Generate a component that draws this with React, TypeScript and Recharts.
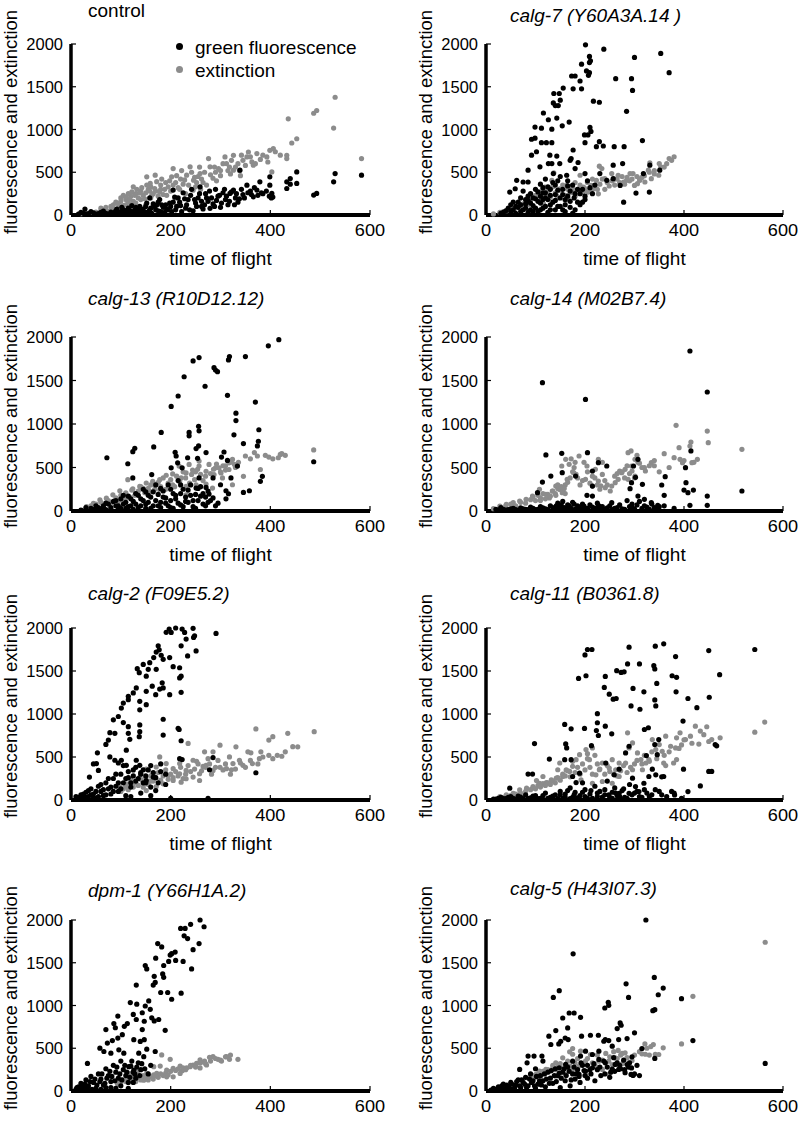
import React from 'react';
import { ScatterChart, Scatter, XAxis, YAxis } from 'recharts';

type Pt = [number, number];

// values: [time of flight, signal]
const controlExt: Pt[] = [
  [20, 15], [30, 20], [40, 30], [50, 35], [55, 25], [60, 45], [70, 50], [75, 40], [80, 60], [85, 70], [90, 55], [95, 80],
  [100, 90], [100, 200], [105, 110], [110, 120], [110, 180], [115, 150], [120, 100], [120, 220], [125, 160], [130, 140],
  [130, 250], [135, 200], [140, 180], [140, 280], [145, 230], [150, 120], [150, 260], [155, 300], [160, 200], [160, 330],
  [165, 250], [169, 466], [170, 280], [175, 220], [180, 350], [180, 300], [185, 240], [190, 380], [195, 330], [200, 280],
  [205, 543], [202, 446], [210, 380], [210, 200], [215, 320], [220, 420], [225, 360], [230, 250], [232, 466], [239, 563],
  [245, 290], [246, 407], [250, 330], [255, 450], [259, 485], [260, 300], [265, 380], [276, 660], [279, 563], [285, 430],
  [290, 500], [296, 543], [300, 460], [309, 679], [312, 601], [315, 520], [320, 480], [326, 698], [326, 524], [330, 560],
  [335, 600], [340, 460], [345, 640], [353, 679], [356, 737], [363, 621], [366, 582], [373, 718], [380, 650], [393, 679],
  [399, 757], [403, 504], [406, 776], [433, 698], [433, 660], [436, 1125], [443, 842], [453, 892], [487, 1190],
  [493, 1222], [527, 1017], [530, 1377], [583, 660], [125, 330], [152, 446], [159, 369],
  [60, 80], [65, 60], [70, 90], [80, 100], [85, 120], [90, 150], [95, 130], [100, 160], [105, 230], [110, 210], [115, 250],
  [118, 190], [122, 270], [128, 230], [132, 300], [138, 260], [142, 320], [148, 190], [152, 350], [158, 280], [162, 230],
  [168, 310], [172, 390], [178, 270], [182, 420], [188, 300], [192, 230], [198, 400], [205, 350], [212, 460], [218, 300],
  [222, 520], [228, 410], [236, 350], [242, 500], [248, 440], [252, 380], [258, 560], [262, 420], [268, 500], [272, 350],
  [280, 470], [288, 560], [292, 400], [300, 520], [305, 600], [318, 560], [322, 640], [338, 520], [342, 700], [350, 580],
  [360, 680], [370, 600], [385, 700], [395, 620], [410, 740], [420, 700],
];
const controlGreen: Pt[] = [
  [15, 10], [25, 20], [28, 70], [35, 15], [45, 25], [55, 15], [60, 30], [70, 20], [80, 35], [85, 15], [90, 50], [95, 25],
  [100, 40], [105, 60], [110, 20], [115, 80], [120, 45], [125, 30], [130, 90], [135, 55], [140, 25], [145, 70],
  [150, 100], [155, 40], [158, 200], [160, 80], [165, 130], [170, 60], [172, 116], [175, 150], [180, 40], [185, 90],
  [190, 120], [195, 60], [200, 100], [205, 150], [205, 291], [210, 60], [215, 200], [220, 110], [225, 260], [230, 80],
  [235, 180], [240, 230], [245, 50], [250, 140], [255, 200], [259, 330], [262, 100], [265, 70], [270, 250], [275, 160],
  [279, 78], [285, 130], [290, 300], [295, 220], [300, 90], [305, 260], [310, 180], [315, 120], [319, 252], [326, 291],
  [330, 200], [335, 150], [339, 524], [345, 240], [353, 349], [360, 280], [366, 213], [373, 291], [379, 388], [385, 250],
  [399, 446], [399, 349], [403, 252], [405, 210], [433, 310], [433, 388], [440, 427], [453, 504], [453, 369], [487, 233],
  [493, 252], [527, 388], [530, 485], [583, 466],
  [20, 30], [30, 10], [40, 40], [50, 10], [65, 45], [75, 10], [88, 30], [92, 70], [98, 15], [102, 90], [108, 30],
  [112, 55], [118, 20], [122, 110], [128, 60], [132, 20], [138, 100], [142, 50], [148, 30], [152, 140], [158, 60],
  [162, 20], [168, 100], [175, 50], [178, 180], [182, 120], [188, 30], [192, 70], [198, 140], [202, 40], [208, 210],
  [212, 100], [218, 150], [222, 40], [228, 190], [232, 120], [238, 60], [242, 300], [248, 180], [252, 100], [258, 250],
  [262, 160], [268, 120], [272, 200], [278, 280], [282, 200], [288, 100], [292, 170], [298, 230], [302, 140], [308, 300],
  [312, 220], [318, 160], [322, 270], [328, 120], [332, 250], [338, 190], [342, 300], [348, 200], [355, 260], [362, 240],
  [368, 320], [375, 230], [382, 260], [392, 280], [398, 220], [402, 200], [440, 360],
];

const calg7Ext: Pt[] = [
  [380, 681], [370, 661], [350, 602], [353, 563], [349, 465], [331, 610], [328, 524], [297, 484], [300, 346], [311, 405],
  [291, 484], [284, 405], [278, 386], [267, 465], [334, 425], [321, 386], [306, 366], [249, 339], [254, 484], [240, 425],
  [229, 571], [234, 543], [223, 405], [213, 346], [203, 287], [217, 307], [227, 248], [206, 268], [190, 465], [190, 287],
  [176, 268], [166, 189], [160, 169], [137, 492], [133, 405], [119, 327], [109, 268], [99, 228], [89, 169], [149, 307],
  [143, 228], [126, 189], [116, 130], [75, 130], [65, 90], [55, 71], [42, 51], [28, 31], [15, 12], [163, 346], [170, 327],
  [197, 327], [180, 380], [260, 420], [315, 440], [340, 480],
  [100, 200], [105, 250], [110, 170], [115, 300], [120, 240], [125, 280], [130, 210], [135, 330], [140, 260], [145, 200],
  [150, 290], [155, 350], [160, 230], [165, 300], [170, 260], [175, 320], [180, 220], [185, 300], [190, 350], [195, 260],
  [200, 310], [205, 380], [210, 300], [215, 420], [220, 340], [225, 300], [230, 360], [235, 420], [240, 300], [245, 380],
  [255, 400], [260, 350], [265, 420], [270, 380], [275, 450], [280, 360], [285, 440], [290, 400], [295, 420], [305, 450],
  [310, 420], [320, 460], [330, 500], [340, 520], [360, 560], [365, 600], [375, 640], [80, 150], [85, 120], [70, 110],
  [60, 80], [50, 60], [35, 40],
];
const calg7Green: Pt[] = [
  [201, 1990], [238, 1940], [209, 1855], [211, 1803], [209, 1783], [353, 1890], [300, 1843], [370, 1665], [193, 1764],
  [203, 1685], [209, 1665], [207, 1634], [173, 1626], [180, 1626], [190, 1567], [294, 1594], [262, 1594], [296, 1457],
  [176, 1476], [193, 1476], [156, 1484], [137, 1421], [148, 1421], [150, 1343], [136, 1311], [140, 1280], [146, 1280],
  [217, 1331], [229, 1319], [284, 1213], [116, 1193], [126, 1114], [143, 1134], [99, 1028], [112, 1016], [210, 1024],
  [212, 977], [206, 937], [199, 937], [168, 1087], [154, 1043], [133, 1004], [99, 898], [92, 886], [122, 846], [112, 846],
  [133, 846], [200, 846], [229, 858], [237, 807], [223, 799], [279, 799], [259, 799], [316, 870], [92, 700], [102, 740],
  [129, 700], [143, 689], [176, 760], [172, 661], [186, 614], [149, 602], [126, 602], [133, 602], [170, 640], [85, 524],
  [62, 405], [75, 386], [85, 386], [109, 563], [136, 484], [163, 465], [180, 543], [200, 484], [230, 484], [257, 583],
  [276, 602], [257, 425], [331, 583], [351, 524], [318, 484], [303, 256], [330, 268], [278, 150], [195, 150], [244, 405],
  [271, 346], [48, 268], [59, 307], [30, 20], [40, 50], [45, 80], [50, 120], [55, 60], [60, 100], [65, 150], [70, 40],
  [70, 200], [75, 280], [80, 80], [80, 130], [85, 170], [90, 250], [90, 60], [95, 110], [100, 190], [100, 300], [105, 40],
  [110, 140], [110, 360], [115, 80], [115, 260], [120, 200], [120, 420], [125, 30], [125, 330], [130, 120], [130, 230],
  [135, 380], [140, 60], [140, 170], [145, 290], [150, 100], [150, 450], [155, 240], [160, 40], [160, 180], [165, 340],
  [170, 90], [170, 280], [175, 20], [178, 200], [185, 150], [185, 300], [190, 250], [200, 220], [210, 320],
  [35, 30], [50, 40], [55, 150], [60, 20], [65, 90], [70, 120], [75, 60], [80, 180], [85, 30], [85, 220], [90, 140],
  [95, 40], [95, 200], [100, 80], [105, 160], [105, 270], [110, 60], [110, 220], [115, 180], [115, 320], [120, 100],
  [120, 260], [125, 180], [130, 60], [130, 300], [135, 150], [140, 240], [140, 350], [145, 100], [145, 400], [150, 200],
  [155, 60], [155, 300], [160, 120], [165, 220], [165, 400], [170, 160], [175, 350], [180, 60], [180, 250], [190, 120],
  [195, 300], [200, 180], [205, 400], [215, 250], [220, 350],
];

const calg13Ext: Pt[] = [
  [487, 702], [430, 640], [423, 659], [416, 612], [397, 620], [368, 671], [374, 632], [350, 632], [346, 399], [380, 477],
  [324, 593], [317, 554], [328, 535], [317, 477], [310, 520], [297, 496], [301, 438], [287, 419], [290, 496], [304, 380],
  [324, 302], [257, 574], [257, 516], [250, 450], [237, 535], [244, 470], [271, 457], [277, 535], [217, 516], [231, 438],
  [221, 380], [204, 426], [191, 411], [178, 360], [164, 341], [151, 322], [114, 360], [138, 283], [124, 256], [98, 233],
  [84, 186], [71, 147], [58, 128], [45, 89], [31, 50], [251, 302], [231, 283], [204, 302], [178, 244], [158, 225],
  [271, 310], [284, 264], [231, 186], [110, 150], [130, 200], [145, 260], [170, 300], [190, 250],
  [40, 60], [50, 80], [60, 100], [65, 60], [75, 120], [80, 90], [90, 150], [95, 110], [100, 180], [105, 130], [110, 210],
  [118, 160], [122, 240], [128, 180], [135, 230], [140, 280], [148, 210], [155, 260], [160, 300], [168, 250], [175, 330],
  [180, 280], [185, 380], [195, 320], [200, 360], [208, 280], [212, 400], [218, 340], [225, 450], [230, 380], [238, 320],
  [242, 420], [248, 360], [254, 480], [260, 420], [265, 350], [270, 400], [280, 430], [286, 480], [292, 540], [300, 450],
  [305, 520], [310, 470], [320, 560], [330, 500], [336, 560], [360, 600], [390, 640], [405, 600], [420, 650],
];
const calg13Green: Pt[] = [
  [417, 1969], [396, 1899], [350, 1775], [318, 1775], [316, 1736], [245, 1725], [257, 1764], [287, 1647], [290, 1620],
  [294, 1601], [227, 1543], [269, 1434], [215, 1322], [314, 1330], [201, 1202], [370, 1252], [331, 1124], [331, 1039],
  [181, 903], [256, 973], [257, 922], [237, 903], [237, 864], [327, 876], [377, 934], [128, 721], [124, 682], [166, 736],
  [72, 612], [114, 543], [256, 748], [251, 717], [307, 678], [271, 671], [346, 775], [376, 802], [374, 748], [209, 674],
  [211, 632], [234, 612], [254, 605], [302, 620], [314, 581], [334, 516], [487, 566], [214, 554], [201, 496], [223, 496],
  [162, 419], [124, 380], [384, 399], [380, 341], [285, 380], [321, 380], [257, 380], [346, 213], [358, 233], [311, 233],
  [316, 198], [311, 140], [300, 302], [271, 271], [277, 194], [251, 264], [20, 10], [30, 20], [40, 30], [45, 15], [55, 40],
  [60, 25], [65, 60], [70, 15], [75, 80], [80, 40], [85, 110], [90, 60], [95, 20], [100, 140], [105, 80], [110, 30],
  [115, 170], [120, 60], [125, 110], [130, 200], [135, 40], [140, 140], [145, 250], [150, 80], [155, 180], [160, 30],
  [165, 220], [170, 120], [175, 60], [180, 260], [185, 160], [190, 90], [195, 300], [200, 40], [205, 200], [210, 140],
  [215, 350], [220, 70], [225, 250], [230, 160], [235, 100], [240, 300], [245, 50], [250, 190], [255, 120], [260, 280],
  [265, 80], [270, 160], [275, 230], [280, 120],
  [30, 40], [50, 20], [50, 60], [65, 30], [70, 90], [80, 20], [90, 120], [95, 60], [100, 30], [105, 180], [110, 100],
  [115, 50], [120, 140], [125, 20], [130, 80], [135, 180], [140, 60], [145, 120], [150, 30], [150, 220], [155, 100],
  [160, 160], [165, 60], [170, 300], [175, 190], [180, 100], [180, 40], [185, 230], [190, 150], [195, 60], [200, 250],
  [200, 120], [205, 30], [210, 180], [215, 90], [220, 300], [220, 200], [225, 50], [230, 110], [235, 240], [240, 180],
  [245, 120], [250, 30], [255, 260], [260, 170], [265, 200], [270, 60], [275, 100], [285, 150], [290, 60], [295, 90],
];

const calg14Ext: Pt[] = [
  [384, 985], [414, 793], [412, 747], [447, 919], [449, 785], [517, 709], [427, 594], [416, 556], [390, 728], [392, 594],
  [397, 556], [380, 613], [360, 659], [334, 556], [340, 520], [293, 690], [287, 670], [301, 594], [307, 560], [320, 498],
  [294, 517], [281, 479], [274, 441], [267, 364], [287, 364], [301, 402], [261, 326], [254, 287], [270, 460], [227, 594],
  [235, 560], [221, 479], [204, 517], [188, 632], [168, 536], [177, 441], [164, 364], [201, 364], [215, 287], [227, 345],
  [232, 290], [241, 268], [251, 230], [153, 517], [161, 594], [180, 560], [141, 287], [148, 249], [134, 230], [154, 211],
  [141, 180], [108, 249], [94, 172], [81, 134], [68, 115], [55, 96], [41, 77], [28, 57], [15, 27], [121, 192], [128, 150],
  [110, 120], [145, 260], [160, 300],
  [30, 40], [40, 60], [50, 80], [60, 60], [70, 100], [80, 90], [90, 130], [95, 160], [100, 120], [105, 180], [110, 150],
  [115, 200], [120, 140], [125, 190], [130, 170], [135, 230], [140, 200], [145, 300], [150, 250], [152, 280], [155, 220],
  [158, 260], [160, 200], [165, 330], [170, 380], [172, 600], [175, 450], [178, 500], [182, 420], [185, 380], [190, 300],
  [195, 350], [198, 560], [205, 450], [210, 320], [215, 400], [220, 380], [225, 300], [230, 250], [235, 420], [240, 350],
  [245, 300], [260, 400], [265, 430], [275, 450], [280, 380], [285, 520], [290, 430], [295, 460], [300, 380], [305, 640],
  [310, 550], [315, 500], [322, 460], [330, 520], [340, 580], [350, 450], [370, 500], [400, 580], [420, 560],
];
const calg14Green: Pt[] = [
  [412, 1839], [114, 1475], [201, 1283], [447, 1368], [153, 663], [121, 644], [205, 670], [154, 441], [131, 402],
  [181, 402], [227, 555], [215, 460], [244, 517], [414, 690], [298, 517], [307, 594], [302, 387], [294, 326], [316, 307],
  [362, 395], [403, 498], [404, 326], [400, 241], [408, 211], [355, 299], [360, 180], [419, 241], [447, 172], [517, 230],
  [215, 287], [204, 180], [215, 172], [104, 211], [114, 333], [291, 257], [307, 172], [320, 134], [334, 96], [347, 65],
  [412, 65], [447, 65], [227, 65], [254, 96], [20, 20], [30, 40], [40, 10], [50, 25], [60, 15], [70, 35], [80, 20],
  [90, 45], [100, 15], [110, 50], [120, 25], [130, 60], [140, 30], [145, 90], [150, 50], [155, 110], [160, 20], [165, 70],
  [170, 40], [175, 100], [180, 20], [185, 60], [190, 30], [195, 80], [200, 15], [210, 70], [220, 30], [225, 90], [230, 50],
  [240, 20], [250, 60], [260, 30], [270, 70], [280, 20], [285, 120], [290, 50], [295, 80], [300, 25], [310, 110], [320, 60],
  [330, 20], [340, 40], [350, 50],
  [25, 10], [35, 20], [45, 15], [55, 30], [65, 10], [75, 25], [85, 15], [95, 30], [105, 20], [115, 35], [125, 15],
  [135, 40], [142, 60], [148, 25], [152, 70], [158, 40], [162, 15], [168, 55], [172, 30], [178, 80], [182, 10], [188, 45],
  [192, 20], [198, 55], [205, 30], [215, 45], [225, 20], [235, 50], [245, 35], [255, 15], [265, 40], [275, 25], [295, 40],
  [305, 70], [315, 30], [325, 45], [335, 80], [345, 20], [360, 60], [380, 30],
];

const calg2Ext: Pt[] = [
  [488, 795], [435, 775], [405, 736], [397, 697], [371, 826], [455, 618], [423, 509], [299, 638], [235, 658], [252, 450],
  [331, 618], [361, 548], [355, 560], [381, 560], [397, 520], [414, 520], [268, 560], [285, 560], [275, 481], [318, 501],
  [325, 423], [338, 462], [345, 403], [312, 364], [322, 352], [299, 380], [285, 344], [271, 403], [258, 305], [265, 390],
  [364, 423], [378, 480], [245, 462], [218, 423], [231, 344], [191, 423], [205, 364], [195, 286], [178, 501], [171, 384],
  [165, 305], [151, 360], [231, 247], [221, 207], [205, 227], [185, 188], [138, 266], [125, 207], [111, 188], [98, 149],
  [145, 149], [171, 157], [151, 110], [218, 305], [245, 266], [258, 227], [120, 230], [160, 220],
  [100, 100], [105, 130], [110, 160], [115, 120], [120, 180], [125, 150], [130, 200], [135, 170], [140, 240], [145, 200],
  [150, 250], [155, 180], [160, 280], [165, 220], [170, 260], [175, 320], [180, 230], [185, 280], [190, 350], [195, 240],
  [200, 300], [205, 260], [210, 330], [215, 280], [220, 380], [225, 250], [230, 300], [235, 400], [240, 330], [248, 360],
  [255, 420], [262, 340], [270, 380], [278, 420], [282, 300], [290, 380], [295, 460], [305, 350], [310, 420], [320, 300],
  [330, 360], [340, 430], [350, 380], [360, 460], [375, 420], [385, 500], [405, 480], [430, 560], [445, 620],
];
const calg2Green: Pt[] = [
  [210, 2000], [197, 1988], [201, 1949], [191, 1950], [223, 1988], [245, 1996], [228, 1949], [248, 1910], [291, 1937],
  [231, 1871], [246, 1890], [175, 1793], [177, 1746], [171, 1720], [221, 1793], [251, 1734], [234, 1675], [181, 1683],
  [185, 1636], [198, 1656], [166, 1656], [158, 1597], [145, 1577], [133, 1527], [137, 1480], [171, 1519], [155, 1519],
  [151, 1440], [205, 1550], [218, 1538], [221, 1440], [218, 1420], [183, 1362], [185, 1303], [178, 1290], [163, 1323],
  [151, 1264], [170, 1225], [131, 1303], [125, 1245], [115, 1205], [221, 1252], [198, 1225], [115, 1166], [105, 1127],
  [101, 1069], [138, 1147], [151, 1108], [138, 1049], [95, 971], [85, 932], [105, 900], [88, 775], [115, 853], [115, 775],
  [118, 705], [185, 939], [185, 755], [215, 834], [217, 820], [138, 873], [138, 795], [137, 736], [78, 783], [75, 697],
  [70, 646], [53, 548], [45, 420], [221, 689], [218, 481], [223, 470], [285, 493], [278, 352], [371, 317], [78, 501],
  [88, 462], [95, 430], [111, 579], [101, 462], [111, 403], [51, 423], [55, 344], [131, 462], [138, 403], [145, 352],
  [151, 227], [165, 266], [37, 266], [10, 10], [15, 30], [20, 60], [25, 20], [30, 90], [35, 40], [40, 130], [45, 70],
  [50, 20], [55, 160], [60, 100], [65, 50], [70, 200], [75, 130], [80, 70], [85, 250], [90, 160], [95, 100], [100, 300],
  [105, 200], [110, 50], [115, 260], [120, 150], [125, 350], [130, 220], [140, 300], [150, 200], [160, 150], [170, 110],
  [180, 330], [190, 180], [200, 20], [275, 20],
  [10, 40], [20, 20], [25, 70], [30, 30], [35, 110], [40, 60], [45, 20], [50, 100], [55, 40], [60, 180], [65, 120],
  [70, 60], [75, 250], [80, 150], [85, 100], [90, 300], [95, 200], [100, 130], [105, 400], [110, 250], [115, 330],
  [120, 200], [125, 280], [130, 380], [135, 250], [140, 320], [145, 200], [150, 280], [155, 350], [160, 400], [165, 320],
  [170, 260], [175, 200], [180, 420], [190, 300], [160, 50], [140, 80], [120, 40],
];

const calg11Ext: Pt[] = [
  [563, 906], [543, 789], [473, 723], [456, 703], [450, 680], [446, 852], [433, 801], [423, 859], [413, 742], [403, 703],
  [416, 660], [385, 723], [392, 781], [395, 640], [383, 605], [379, 430], [385, 470], [363, 742], [373, 625], [356, 566],
  [359, 430], [363, 400], [343, 586], [336, 703], [350, 645], [329, 469], [323, 430], [316, 352], [289, 605], [296, 664],
  [286, 781], [306, 547], [313, 470], [282, 430], [269, 430], [262, 352], [255, 469], [249, 371], [235, 430], [229, 352],
  [222, 293], [205, 539], [209, 469], [202, 586], [215, 605], [189, 527], [182, 469], [175, 391], [169, 332], [162, 350],
  [149, 430], [145, 352], [155, 273], [142, 254], [132, 234], [122, 203], [108, 195], [95, 156], [82, 137], [68, 117],
  [55, 78], [41, 59], [28, 39], [192, 234], [215, 195], [235, 215], [255, 195], [269, 273], [296, 352], [115, 273],
  [102, 227],
  [35, 30], [50, 50], [60, 70], [70, 80], [80, 100], [90, 120], [95, 140], [100, 130], [105, 170], [110, 150], [115, 190],
  [120, 170], [125, 200], [130, 180], [135, 220], [140, 200], [145, 260], [150, 230], [155, 300], [160, 280], [165, 340],
  [170, 270], [175, 450], [180, 320], [185, 380], [190, 300], [195, 420], [200, 350], [205, 480], [210, 380], [215, 300],
  [220, 520], [225, 420], [230, 360], [240, 300], [245, 400], [250, 330], [258, 300], [265, 280], [272, 340], [278, 400],
  [285, 320], [292, 380], [300, 420], [305, 460], [315, 420], [320, 520], [330, 450], [335, 560], [345, 480], [360, 520],
  [370, 560], [390, 600], [400, 700], [430, 650], [440, 760],
];
const calg11Green: Pt[] = [
  [543, 1750], [359, 1816], [342, 1789], [289, 1777], [214, 1750], [205, 1750], [200, 1687], [450, 1738], [383, 1668],
  [286, 1582], [310, 1582], [187, 1414], [202, 1445], [241, 1437], [264, 1504], [273, 1484], [279, 1490], [339, 1562],
  [341, 1523], [472, 1457], [376, 1445], [385, 1426], [239, 1309], [297, 1297], [319, 1258], [384, 1258], [249, 1230],
  [257, 1172], [263, 1180], [345, 1355], [341, 1164], [343, 1094], [408, 1180], [451, 1195], [426, 1074], [293, 1094],
  [311, 1055], [225, 1004], [398, 918], [225, 898], [241, 859], [159, 879], [172, 828], [199, 832], [223, 808],
  [227, 750], [254, 769], [320, 820], [328, 840], [98, 656], [161, 652], [163, 605], [213, 632], [349, 703], [341, 644],
  [463, 644], [466, 630], [128, 476], [172, 469], [159, 469], [289, 625], [282, 547], [324, 516], [346, 527], [399, 359],
  [450, 332], [456, 332], [359, 273], [336, 359], [343, 293], [85, 301], [94, 301], [189, 312], [175, 273], [182, 203],
  [242, 430], [269, 359], [259, 293], [296, 254], [319, 195], [302, 156], [329, 273], [355, 270], [433, 164], [408, 98],
  [381, 59], [309, 98], [289, 78], [269, 78], [48, 137], [15, 10], [25, 20], [35, 15], [45, 30], [55, 20], [65, 45],
  [75, 15], [80, 60], [90, 25], [100, 50], [110, 20], [120, 80], [130, 30], [140, 60], [150, 100], [155, 20], [160, 70],
  [170, 140], [175, 30], [180, 90], [190, 50], [195, 200], [200, 120], [205, 20], [210, 70], [220, 160], [225, 40],
  [230, 100], [240, 60], [245, 220], [250, 30], [255, 90], [260, 140], [265, 50], [275, 110], [280, 30], [290, 180],
  [300, 80], [310, 40], [320, 120], [335, 60], [350, 100], [365, 40], [380, 80],
  [20, 10], [30, 30], [40, 15], [50, 40], [60, 10], [70, 35], [85, 20], [95, 45], [105, 15], [115, 50], [125, 20],
  [135, 45], [145, 15], [150, 60], [160, 30], [165, 110], [170, 15], [178, 60], [185, 25], [195, 90], [200, 40],
  [212, 110], [215, 20], [225, 80], [235, 35], [240, 120], [248, 60], [255, 20], [262, 80], [270, 40], [278, 130],
  [285, 20], [295, 60], [305, 100], [315, 30], [325, 80], [330, 40], [342, 120], [355, 60], [375, 100], [395, 20],
];

const dpm1Ext: Pt[] = [
  [335, 371], [318, 371], [312, 402], [285, 402], [278, 394], [268, 350], [259, 363], [252, 323], [239, 284], [232, 270],
  [219, 292], [205, 264], [199, 371], [223, 237], [192, 245], [179, 292], [182, 422], [172, 205], [166, 284], [152, 205],
  [139, 166], [126, 166], [113, 146], [99, 107], [93, 87], [159, 166], [146, 126], [166, 190], [192, 166], [205, 166],
  [219, 205], [245, 304], [272, 304], [259, 270], [119, 205], [133, 225], [295, 371], [302, 350],
  [95, 80], [100, 100], [105, 130], [110, 110], [115, 150], [120, 120], [125, 140], [130, 110], [135, 160], [140, 130],
  [145, 180], [150, 150], [155, 130], [160, 170], [165, 140], [170, 180], [175, 160], [180, 200], [185, 180], [190, 210],
  [195, 190], [200, 230], [210, 240], [215, 260], [225, 270], [230, 250], [240, 300], [250, 280], [260, 330], [270, 320],
  [280, 350], [290, 380], [300, 360], [310, 400], [320, 420],
];
const dpm1Green: Pt[] = [
  [259, 2000], [267, 1921], [240, 1949], [229, 1901], [220, 1901], [227, 1815], [234, 1783], [257, 1724], [245, 1653],
  [242, 1428], [209, 1625], [202, 1606], [199, 1590], [174, 1724], [182, 1685], [170, 1554], [196, 1515], [210, 1527],
  [225, 1515], [186, 1468], [149, 1468], [152, 1428], [184, 1369], [186, 1329], [167, 1341], [169, 1270], [131, 1239],
  [165, 1239], [221, 1144], [180, 1152], [194, 1152], [202, 1073], [156, 1053], [119, 1034], [132, 1015], [149, 994],
  [143, 915], [159, 955], [176, 836], [162, 856], [167, 820], [125, 896], [131, 836], [94, 876], [86, 789], [89, 740],
  [113, 789], [107, 757], [147, 816], [143, 718], [70, 718], [73, 560], [83, 590], [94, 619], [103, 659], [126, 600],
  [139, 580], [147, 600], [189, 710], [169, 462], [152, 489], [136, 442], [146, 402], [58, 501], [66, 462], [80, 442],
  [33, 323], [96, 481], [106, 442], [116, 284], [126, 245], [10, 20], [15, 50], [20, 90], [25, 30], [30, 130], [35, 60],
  [40, 170], [45, 100], [50, 30], [55, 200], [60, 140], [65, 70], [70, 260], [75, 180], [80, 110], [85, 300], [90, 220],
  [95, 150], [100, 60], [100, 350], [105, 250], [110, 180], [115, 100], [120, 290], [125, 220], [130, 150], [135, 330],
  [140, 250], [115, 30], [60, 20], [80, 40],
  [12, 40], [18, 10], [22, 60], [28, 80], [32, 40], [38, 110], [42, 20], [48, 140], [52, 70], [58, 110], [62, 200],
  [68, 90], [72, 150], [78, 230], [82, 170], [88, 120], [92, 280], [98, 200], [102, 130], [108, 300], [112, 220],
  [118, 160], [122, 350], [128, 200], [132, 280], [138, 180], [142, 320], [148, 260], [155, 200], [160, 300], [70, 40],
  [90, 30], [40, 10], [125, 100],
];

const calg5Ext: Pt[] = [
  [564, 1740], [418, 1107], [395, 551], [358, 505], [349, 427], [342, 430], [338, 544], [321, 551], [333, 520], [315, 435],
  [322, 430], [295, 357], [288, 330], [275, 318], [267, 474], [275, 440], [281, 447], [261, 388], [248, 349], [255, 310],
  [228, 349], [211, 427], [221, 291], [191, 466], [175, 497], [169, 458], [175, 430], [155, 388], [141, 330], [148, 300],
  [135, 272], [121, 252], [108, 233], [101, 194], [91, 175], [81, 155], [201, 349], [188, 291], [175, 252], [235, 252],
  [248, 194], [201, 194], [141, 175], [161, 194],
  [90, 150], [95, 180], [100, 160], [105, 200], [110, 170], [115, 230], [120, 210], [125, 250], [130, 230], [135, 300],
  [140, 250], [145, 280], [150, 320], [155, 260], [160, 300], [165, 350], [170, 290], [180, 330], [185, 380], [195, 310],
  [205, 380], [215, 330], [225, 420], [235, 360], [242, 440], [250, 400], [258, 460], [265, 380], [272, 420], [285, 390],
  [300, 420], [310, 460], [325, 500], [330, 420],
];
const calg5Green: Pt[] = [
  [323, 2000], [176, 1604], [340, 1328], [283, 1254], [358, 1204], [148, 1173], [136, 1095], [288, 1095], [348, 1126],
  [395, 1080], [247, 1037], [248, 1002], [240, 971], [341, 951], [337, 940], [168, 912], [178, 912], [191, 862],
  [155, 854], [141, 707], [271, 796], [273, 769], [265, 730], [165, 738], [193, 641], [211, 652], [227, 652], [300, 680],
  [238, 582], [127, 641], [131, 544], [147, 551], [151, 582], [166, 602], [160, 620], [241, 602], [248, 590], [268, 602],
  [285, 613], [315, 497], [341, 381], [418, 590], [564, 322], [288, 280], [293, 194], [297, 182], [85, 408], [97, 408],
  [113, 408], [115, 350], [83, 330], [68, 252], [228, 466], [255, 524], [201, 466], [215, 427], [191, 408], [175, 349],
  [161, 311], [148, 272], [228, 369], [241, 330], [261, 311], [255, 255], [268, 252], [281, 214], [294, 270], [215, 272],
  [201, 233], [188, 194], [10, 10], [20, 20], [25, 50], [30, 15], [35, 80], [40, 30], [45, 50], [50, 100], [55, 20],
  [60, 70], [65, 130], [70, 40], [75, 100], [80, 160], [85, 60], [90, 200], [95, 120], [100, 30], [100, 260], [105, 80],
  [110, 180], [115, 120], [120, 50], [125, 220], [130, 150], [135, 90], [140, 260], [145, 180], [150, 40], [155, 220],
  [160, 120], [165, 280], [170, 60], [175, 200], [180, 140], [185, 250], [190, 100], [195, 300], [200, 180], [205, 150],
  [210, 250], [220, 120], [230, 280], [240, 200], [250, 160], [260, 230], [270, 300], [280, 250], [290, 330], [300, 200],
  [310, 180],
  [15, 30], [22, 10], [28, 40], [32, 60], [38, 20], [42, 70], [48, 30], [52, 80], [58, 40], [62, 110], [68, 60], [72, 130],
  [78, 80], [82, 40], [88, 140], [92, 100], [98, 60], [102, 170], [108, 120], [112, 70], [118, 200], [122, 140], [128, 90],
  [132, 240], [138, 180], [142, 110], [148, 210], [152, 150], [158, 260], [162, 180], [168, 230], [172, 130], [178, 280],
  [182, 200], [188, 170], [192, 330], [198, 240], [205, 300], [212, 200], [218, 320], [225, 250], [232, 180], [238, 350],
  [245, 280], [252, 220], [258, 390], [265, 330], [272, 260], [278, 360], [285, 310], [295, 400], [305, 300],
];

const xTicks = [0, 200, 400, 600];
const yTicks = [0, 500, 1000, 1500, 2000];

const FONT = "'Liberation Sans', Arial, Helvetica, sans-serif";
const GRAY = '#8c8c8c';
const BLACK = '#000';
const AXIS_W = 71;
const TICK_GAP = 8;

// plot area top/bottom (page px) for each row, plot left / width for each column
const rows = [
  { top: 44, bottom: 215, titleY: [10, 15], xLabel: true },
  { top: 337, bottom: 511, titleY: [298, 298], xLabel: true },
  { top: 628, bottom: 800, titleY: [593, 593], xLabel: true },
  { top: 920, bottom: 1091, titleY: [890, 888], xLabel: false }, // bottom row label falls below the page
];
const cols = [71, 486];
const plotWidths = [299, 297];
const titleIndent = [17, 24];

const panels = [
  { title: 'control', italic: false, col: 0, row: 0, ext: controlExt, green: controlGreen, legend: true },
  { title: 'calg-7 (Y60A3A.14 )', italic: true, col: 1, row: 0, ext: calg7Ext, green: calg7Green },
  { title: 'calg-13 (R10D12.12)', italic: true, col: 0, row: 1, ext: calg13Ext, green: calg13Green },
  { title: 'calg-14 (M02B7.4)', italic: true, col: 1, row: 1, ext: calg14Ext, green: calg14Green },
  { title: 'calg-2 (F09E5.2)', italic: true, col: 0, row: 2, ext: calg2Ext, green: calg2Green },
  { title: 'calg-11 (B0361.8)', italic: true, col: 1, row: 2, ext: calg11Ext, green: calg11Green },
  { title: 'dpm-1 (Y66H1A.2)', italic: true, col: 0, row: 3, ext: dpm1Ext, green: dpm1Green },
  { title: 'calg-5 (H43I07.3)', italic: true, col: 1, row: 3, ext: calg5Ext, green: calg5Green },
];

const toRows = (pts: Pt[]) => pts.map(([x, y]) => ({ x, y }));

const dot = (color: string) => (props: any) => (
  <circle cx={props.cx} cy={props.cy} r={2.6} fill={color} />
);

// x tick: label stretched a little wider like the source figure, small inward tick mark
const XTick = (props: any) => {
  const { x, y, payload } = props;
  return (
    <g>
      <line x1={x} x2={x} y1={y - TICK_GAP} y2={y - TICK_GAP - 5} stroke="#000" strokeWidth={1.2} />
      <text
        x={x}
        y={y}
        dy={13}
        textAnchor="middle"
        fontSize={16.5}
        fill="#000"
        fontFamily={FONT}
        transform={`translate(${x} 0) scale(1.1 1) translate(${-x} 0)`}
      >
        {payload.value}
      </text>
    </g>
  );
};

const YTick = (props: any) => {
  const { x, y, payload } = props;
  return (
    <g>
      <line x1={x + TICK_GAP} x2={x + TICK_GAP + 5} y1={y} y2={y} stroke="#000" strokeWidth={1.2} />
      <text x={x} y={y} dy={6} textAnchor="end" fontSize={16.5} fill="#000" fontFamily={FONT}>
        {payload.value}
      </text>
    </g>
  );
};

const textAt = (cx: number, cy: number, size: number, extra: React.CSSProperties = {}): React.CSSProperties => ({
  position: 'absolute',
  left: cx,
  top: cy,
  transform: 'translate(-50%, -50%)',
  whiteSpace: 'nowrap',
  fontSize: size,
  lineHeight: 1,
  color: '#000',
  ...extra,
});

const Panel = ({ p }: { p: any }) => {
  const r = rows[p.row];
  const plotLeft = cols[p.col];
  const plotW = plotWidths[p.col];
  const plotH = r.bottom - r.top;
  const mTop = 10;
  const mRight = 25;
  const xAxisH = 30;
  const plotMid = (r.top + r.bottom) / 2;
  const plotCx = plotLeft + plotW / 2;

  return (
    <>
      <div style={{ position: 'absolute', left: plotLeft - AXIS_W, top: r.top - mTop }}>
        <ScatterChart
          width={AXIS_W + plotW + mRight}
          height={mTop + plotH + xAxisH}
          margin={{ top: mTop, right: mRight, bottom: 0, left: 0 }}
        >
          <XAxis
            type="number"
            dataKey="x"
            domain={[0, 600]}
            ticks={xTicks}
            height={xAxisH}
            axisLine={{ stroke: '#000', strokeWidth: 4 }}
            tickLine={false}
            tickSize={0}
            tickMargin={TICK_GAP}
            tick={(props: any) => <XTick {...props} />}
          />
          <YAxis
            type="number"
            dataKey="y"
            domain={[0, 2000]}
            ticks={yTicks}
            width={AXIS_W}
            axisLine={{ stroke: '#000', strokeWidth: 3.5 }}
            tickLine={false}
            tickSize={0}
            tickMargin={TICK_GAP}
            tick={(props: any) => <YTick {...props} />}
          />
          <Scatter data={toRows(p.ext)} fill={GRAY} shape={dot(GRAY)} isAnimationActive={false} />
          <Scatter data={toRows(p.green)} fill={BLACK} shape={dot(BLACK)} isAnimationActive={false} />
        </ScatterChart>
      </div>
      <div
        style={{
          ...textAt(plotLeft + titleIndent[p.col], r.titleY[p.col], 19),
          transform: 'translate(0, -50%)',
          fontStyle: p.italic ? 'italic' : 'normal',
        }}
      >
        {p.title}
      </div>
      <div style={{ ...textAt(plotLeft - 60, plotMid - 8, 18.5), transform: 'translate(-50%, -50%) rotate(-90deg)' }}>
        fluorescence and extinction
      </div>
      {r.xLabel && <div style={textAt(plotCx, r.bottom + 43, 19)}>time of flight</div>}
      {p.legend && (
        <>
          <div style={{ position: 'absolute', left: 176, top: 43, width: 7, height: 7, borderRadius: '50%', background: BLACK }} />
          <div style={{ ...textAt(195, 47, 19), transform: 'translate(0, -50%)' }}>green fluorescence</div>
          <div style={{ position: 'absolute', left: 176, top: 66, width: 7, height: 7, borderRadius: '50%', background: GRAY }} />
          <div style={{ ...textAt(195, 70, 19), transform: 'translate(0, -50%)' }}>extinction</div>
        </>
      )}
    </>
  );
};

export default function App() {
  return (
    <div
      style={{
        position: 'absolute',
        left: 0,
        top: 0,
        width: 800,
        height: 1122,
        overflow: 'hidden',
        background: '#fff',
        fontFamily: FONT,
      }}
    >
      {panels.map((p) => (
        <Panel key={p.title} p={p} />
      ))}
    </div>
  );
}
